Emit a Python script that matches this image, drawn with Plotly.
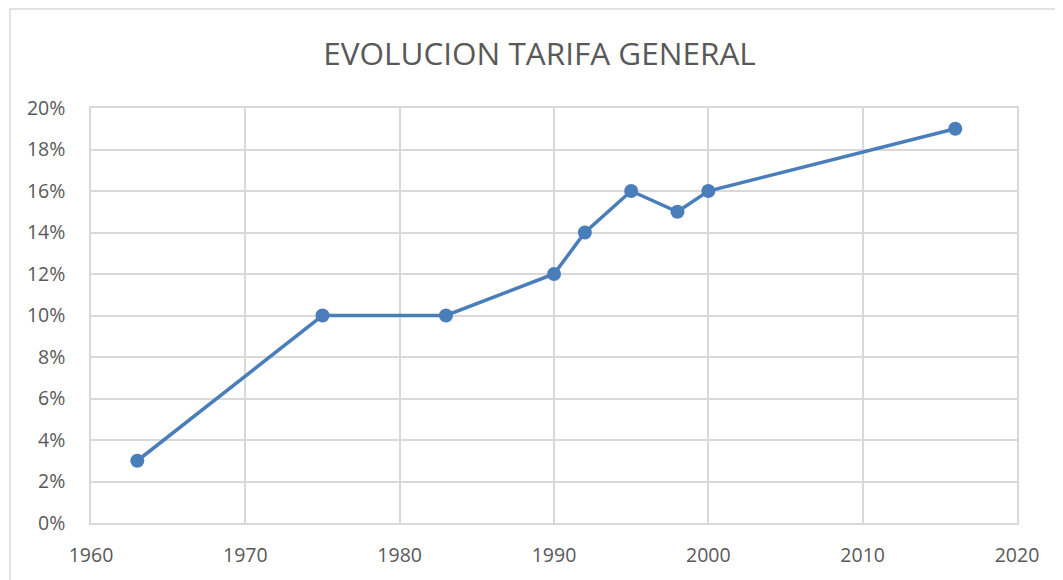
import plotly.graph_objects as go

years = [1963, 1975, 1983, 1990, 1992, 1995, 1998, 2000, 2016]
tarifa = [0.03, 0.10, 0.10, 0.12, 0.14, 0.16, 0.15, 0.16, 0.19]
title_text = "EVOLUCION TARIFA GENERAL"

# page body adds an 8px offset; margins are set so the plot lands at x 91..1017, y 108..523
OFF = 8
W, H = 1063, 580
fig = go.Figure()
fig.add_trace(go.Scatter(
    x=years, y=tarifa, mode="lines+markers",
    line=dict(color="#4a7ebb", width=3.5),
    marker=dict(color="#4a7ebb", size=14),
    showlegend=False,
))

font_family = "Open Sans, Liberation Sans, sans-serif"
fig.update_layout(
    width=W, height=H,
    margin=dict(l=91 - OFF, r=W - 1017 + OFF, t=108 - OFF, b=H - 523 + OFF),
    paper_bgcolor="white", plot_bgcolor="white",
    title=dict(text=title_text, x=(539.5 - OFF) / W, xanchor="center",
               y=1 - (54 - OFF) / H, yanchor="middle",
               font=dict(family=font_family, size=31.5, color="#595959")),
    font=dict(family=font_family, color="#595959", size=19),
)
fig.update_xaxes(
    range=[1960, 2020], tickvals=list(range(1960, 2021, 10)),
    showgrid=True, gridcolor="#d9d9d9", gridwidth=1.5,
    showline=True, mirror=True, linecolor="#d9d9d9", linewidth=1.5,
    zeroline=False, ticks="", ticklabelstandoff=14,
    tickfont=dict(size=19.5, color="#595959"),
)
fig.update_yaxes(
    range=[0, 0.2], tickvals=[i / 100 for i in range(0, 21, 2)],
    tickformat=".0%",
    showgrid=True, gridcolor="#d9d9d9", gridwidth=1.5,
    showline=True, mirror=True, linecolor="#d9d9d9", linewidth=1.5,
    zeroline=False, ticks="", ticklabelstandoff=20,
    tickfont=dict(size=19.5, color="#595959"),
)
# outer chart border
fig.add_shape(type="rect", xref="paper", yref="paper",
              x0=(10 - 91) / 926, x1=(1080 - 91) / 926,
              y0=(523 - 600) / 415, y1=(523 - 9) / 415,
              line=dict(color="#d9d9d9", width=1.5), fillcolor="rgba(0,0,0,0)",
              layer="below")

fig.write_html("out.html")
